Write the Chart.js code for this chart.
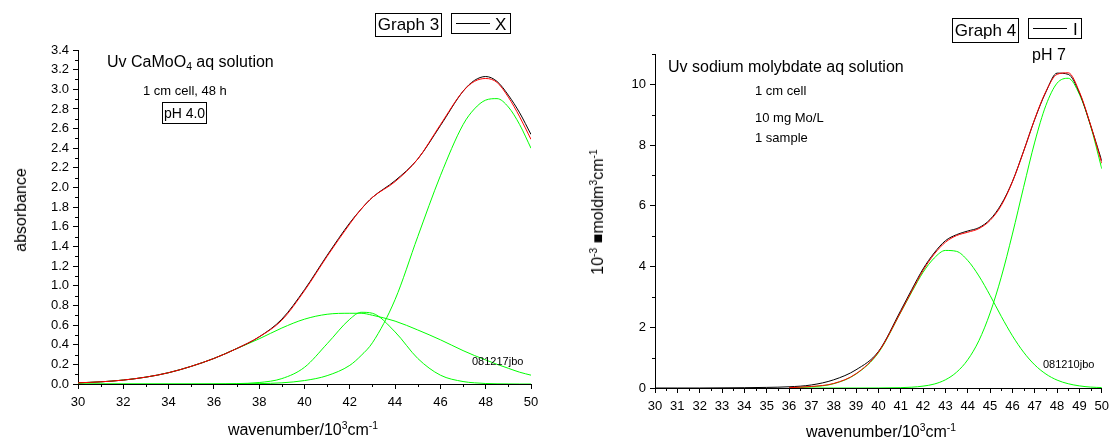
<!DOCTYPE html>
<html>
<head>
<meta charset="utf-8">
<script src="https://cdn.jsdelivr.net/npm/chart.js@4.4.1/dist/chart.umd.min.js"></script>
<style>
  body { margin: 0; background: #fff; }
  #page { position: relative; width: 1115px; height: 441px; overflow: hidden; font-family: 'Liberation Sans', Arial, sans-serif; color: #000; }
  canvas { position: absolute; top: 0; }
  .t { position: absolute; white-space: nowrap; line-height: 1; transform: translateY(-50%); }
  .rot { position: absolute; white-space: nowrap; line-height: 1; transform: translate(-50%, -50%) rotate(-90deg); }
  .ctr { position: absolute; white-space: nowrap; line-height: 1; transform: translate(-50%, -50%); }
  .box { position: absolute; border: 1px solid #000; box-sizing: border-box; display: flex; align-items: center; justify-content: center; white-space: nowrap; }
  .key { position: absolute; border-top: 1px solid #000; height: 0; }
  sup { font-size: 65%; vertical-align: 0.55em; line-height: 0; }
  sub { font-size: 65%; vertical-align: -0.3em; line-height: 0; }
</style>
</head>
<body>
<div id="page">
  <canvas id="graph3" width="557" height="441" style="left:0"></canvas>
  <canvas id="graph4" width="558" height="441" style="left:557px"></canvas>

  <!-- Graph 3 texts -->
  <div class="box" style="left:375px;top:13px;width:67px;height:24px;font-size:17px;">Graph 3</div>
  <div class="box" style="left:451px;top:13px;width:60px;height:21px;"></div>
  <div class="key" style="left:456px;top:23px;width:34px;"></div>
  <div class="t" style="left:495px;top:24px;font-size:17px;">X</div>
  <div class="t" style="left:107px;top:62px;font-size:16px;">Uv CaMoO<sub>4</sub> aq solution</div>
  <div class="t" style="left:143px;top:90px;font-size:13px;">1 cm cell, 48 h</div>
  <div class="box" style="left:162px;top:102px;width:45px;height:22px;font-size:14px;">pH 4.0</div>
  <div class="t" style="left:472px;top:361px;font-size:11px;">081217jbo</div>
  <div class="rot" style="left:21px;top:210px;font-size:16px;">absorbance</div>
  <div class="ctr" style="left:303px;top:430px;font-size:16px;">wavenumber/10<sup>3</sup>cm<sup>-1</sup></div>

  <!-- Graph 4 texts -->
  <div class="box" style="left:952px;top:18px;width:67px;height:25px;font-size:17px;">Graph 4</div>
  <div class="box" style="left:1028px;top:18px;width:54px;height:21px;"></div>
  <div class="key" style="left:1033px;top:28px;width:34px;"></div>
  <div class="t" style="left:1073px;top:29px;font-size:17px;">I</div>
  <div class="t" style="left:1032px;top:55px;font-size:16px;">pH 7</div>
  <div class="t" style="left:668px;top:67px;font-size:16px;">Uv sodium molybdate aq solution</div>
  <div class="t" style="left:755px;top:90px;font-size:13px;">1 cm cell</div>
  <div class="t" style="left:755px;top:117px;font-size:13px;">10 mg Mo/L</div>
  <div class="t" style="left:755px;top:137px;font-size:13px;">1 sample</div>
  <div class="t" style="left:1043px;top:364px;font-size:11px;">081210jbo</div>
  <div class="rot" style="left:598px;top:212px;font-size:16px;">10<sup>-3</sup> &#9632;moldm<sup>3</sup>cm<sup>-1</sup></div>
  <div class="ctr" style="left:881px;top:432px;font-size:16px;">wavenumber/10<sup>3</sup>cm<sup>-1</sup></div>
</div>

<script>
// Graph 3 : Uv CaMoO4, absorbance
const waveA = [30, 31, 32, 33, 34, 35, 36, 37, 38, 39, 40, 41, 42, 42.5, 43, 44, 45, 46, 47, 47.5, 48, 48.5, 49, 49.5, 50];
const absData  = [0.012, 0.022, 0.04, 0.07, 0.115, 0.18, 0.26, 0.36, 0.48, 0.66, 0.96, 1.31, 1.64, 1.78, 1.90, 2.07, 2.29, 2.63, 2.98, 3.09, 3.13, 3.08, 2.94, 2.76, 2.54];
const absFit   = [0.012, 0.022, 0.04, 0.07, 0.115, 0.18, 0.26, 0.36, 0.48, 0.65, 0.95, 1.30, 1.63, 1.78, 1.90, 2.06, 2.29, 2.64, 2.98, 3.08, 3.11, 3.07, 2.92, 2.72, 2.49];
const absPeak1 = [0.012, 0.022, 0.04, 0.07, 0.115, 0.18, 0.26, 0.36, 0.46, 0.57, 0.66, 0.71, 0.72, 0.72, 0.70, 0.64, 0.55, 0.45, 0.34, 0.29, 0.245, 0.20, 0.16, 0.12, 0.09];
const absPeak2 = [0, 0, 0, 0, 0, 0, 0.001, 0.004, 0.015, 0.055, 0.17, 0.41, 0.66, 0.73, 0.72, 0.53, 0.26, 0.09, 0.025, 0.012, 0.005, 0.002, 0.001, 0, 0];
const absPeak3 = [0, 0, 0, 0, 0, 0, 0, 0.001, 0.004, 0.012, 0.035, 0.085, 0.19, 0.29, 0.42, 0.86, 1.50, 2.12, 2.64, 2.80, 2.89, 2.905, 2.82, 2.64, 2.40];

// Graph 4 : Uv sodium molybdate
const waveB = [30, 31, 32, 33, 34, 35, 36, 37, 38, 39, 40, 41, 41.5, 42, 42.5, 43, 43.5, 44, 44.5, 45, 45.5, 46, 46.5, 47, 47.5, 48, 48.5, 49, 49.5, 50];
const epsData  = [0, 0, 0, 0.005, 0.01, 0.02, 0.04, 0.1, 0.27, 0.6, 1.2, 2.55, 3.25, 3.92, 4.45, 4.85, 5.05, 5.17, 5.28, 5.55, 6.05, 6.8, 7.8, 8.85, 9.75, 10.37, 10.33, 9.72, 8.65, 7.48];
const epsFit   = [null, null, null, null, null, null, 0.01, 0.05, 0.15, 0.47, 1.18, 2.5, 3.2, 3.87, 4.41, 4.8, 5.02, 5.13, 5.25, 5.52, 6.01, 6.79, 7.79, 8.86, 9.77, 10.33, 10.38, 9.75, 8.66, 7.40];
const epsPeak1 = [null, null, null, null, null, null, 0.01, 0.04, 0.14, 0.46, 1.16, 2.49, 3.17, 3.81, 4.28, 4.53, 4.50, 4.20, 3.69, 3.05, 2.36, 1.72, 1.18, 0.76, 0.46, 0.26, 0.14, 0.07, 0.03, 0.015];
const epsPeak2 = [null, null, null, null, null, null, 0, 0, 0, 0, 0.002, 0.011, 0.027, 0.062, 0.13, 0.27, 0.52, 0.93, 1.56, 2.47, 3.65, 5.07, 6.61, 8.10, 9.31, 10.04, 10.2, 9.67, 8.63, 7.22];

const FONT = "'Liberation Sans', Arial, sans-serif";

// short ticks between the labelled ones
const minorTicks = {
    id: 'minorTicks',
    afterDraw(chart, args, opts) {
        const ctx = chart.ctx;
        ctx.save();
        ctx.strokeStyle = '#000';
        ctx.lineWidth = 1;
        ctx.beginPath();
        const xs = chart.scales.x;
        for (let i = 1; ; i += 2) {
            const v = xs.min + i * opts.x;
            if (v > xs.max + 1e-9) break;
            const px = Math.round(xs.getPixelForValue(v)) + 0.5;
            ctx.moveTo(px, xs.top);
            ctx.lineTo(px, xs.top + opts.len);
        }
        const ys = chart.scales.y;
        for (let i = 1; ; i += 2) {
            const v = ys.min + i * opts.y;
            if (v > ys.max + 1e-9) break;
            const py = Math.round(ys.getPixelForValue(v)) + 0.5;
            ctx.moveTo(ys.right, py);
            ctx.lineTo(ys.right - opts.len, py);
        }
        ctx.stroke();
        ctx.restore();
    }
};

function line(xs, ys, color) {
    return {
        data: xs.map((x, i) => ({ x: x, y: ys[i] })),
        borderColor: color,
        borderWidth: 1,
        pointRadius: 0,
        fill: false,
        cubicInterpolationMode: 'monotone',
        spanGaps: false
    };
}

function axis(min, max, step, extra) {
    return Object.assign({
        type: 'linear',
        min: min,
        max: max,
        border: { display: true, color: '#000', width: 1 },
        grid: { display: true, drawOnChartArea: false, drawTicks: true, tickLength: 5, color: '#000', lineWidth: 1 },
        ticks: { stepSize: step, includeBounds: false, color: '#000', font: { family: FONT, size: 13 } }
    }, extra);
}

function makeChart(id, xs, sets, yMin, yMax, yStep, xStep, yFmt, layout, minor) {
    const xAxis = axis(30, 50, xStep, { afterFit: s => { s.height = layout.xh; } });
    xAxis.ticks.padding = 6;
    xAxis.ticks.maxRotation = 0;
    xAxis.ticks.autoSkip = false;
    const yAxis = axis(yMin, yMax, yStep, { afterFit: s => { s.width = layout.yw; } });
    yAxis.ticks.padding = 4;
    yAxis.ticks.callback = yFmt;
    return new Chart(document.getElementById(id), {
        type: 'line',
        data: {
            datasets: [
                line(xs, sets[1], '#ff0000'),
                line(xs, sets[0], '#000000'),
                line(xs, sets[2], '#00ff00'),
                line(xs, sets[3], '#00ff00'),
                line(xs, sets[4], '#00ff00')
            ].filter(d => d.data.length)
        },
        options: {
            responsive: false,
            animation: false,
            events: [],
            layout: { padding: { left: 0, right: layout.right, top: layout.top, bottom: 0 } },
            scales: { x: xAxis, y: yAxis },
            plugins: {
                legend: { display: false },
                tooltip: { enabled: false },
                minorTicks: minor
            }
        },
        plugins: [minorTicks]
    });
}

makeChart('graph3', waveA, [absData, absFit, absPeak1, absPeak2, absPeak3],
    0, 3.4, 0.2, 2, v => v.toFixed(1),
    { yw: 78, xh: 57, right: 26, top: 50 },
    { x: 1, y: 0.1, len: 3 });

makeChart('graph4', waveB, [epsData, epsFit, epsPeak1, epsPeak2, []],
    0, 11, 2, 1, v => String(Math.round(v)),
    { yw: 98, xh: 53, right: 8, top: 54 },
    { x: 0.5, y: 1, len: 3 });
</script>
</body>
</html>
